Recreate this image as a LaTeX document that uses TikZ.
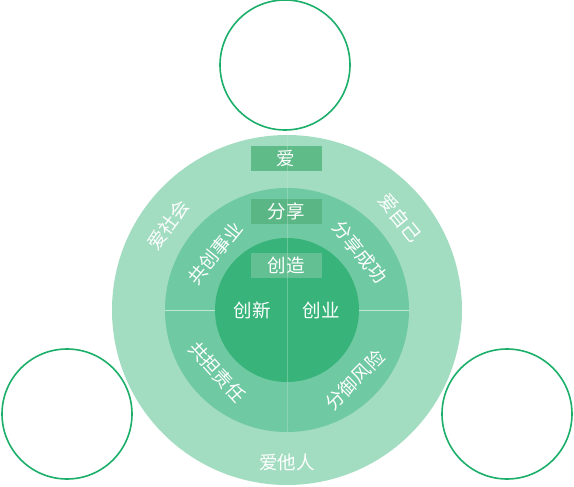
\documentclass[tikz,border=0pt]{standalone}
\usepackage{fontspec}
\newfontfamily\cjk{Noto Sans CJK SC}
\definecolor{ringA}{HTML}{A3DDC1}
\definecolor{ringB}{HTML}{6FC9A2}
\definecolor{ringC}{HTML}{38B47B}
\definecolor{boxA}{HTML}{5FBB88}
\definecolor{boxB}{HTML}{5AB785}
\definecolor{boxC}{HTML}{63C093}
\definecolor{divline}{HTML}{BFE8D3}
\definecolor{ringline}{HTML}{1BAF6A}
\tikzset{
  disc/.style={circle, inner sep=0pt, draw=none},
  emptyring/.style={circle, inner sep=0pt, minimum size=130pt, draw=ringline, line width=1.6pt, fill=white},
  label/.style={text=white, font=\cjk\fontsize{18.5}{18.5}\selectfont, inner sep=0pt},
  tag/.style={label, minimum width=71pt, minimum height=25pt},
  divider/.style={draw=divline, line width=0.9pt},
}
\begin{document}
\begin{tikzpicture}[x=1pt,y=-1pt]
\useasboundingbox (0,0) rectangle (574,487);
% small outline circles
\node[emptyring] (top) at (285,65) {};
\node[emptyring] (bl) at (67,414) {};
\node[emptyring] (br) at (507,414) {};
% rings
\node[disc, fill=ringA, minimum size=350pt] (outer) at (287,310) {};
\node[disc, fill=ringB, minimum size=244pt] (middle) at (287,310) {};
\draw[divider] (middle.west) -- (middle.east);
\node[disc, fill=ringC, minimum size=144pt] (inner) at (287,310) {};
% label boxes
\node[tag, fill=boxA] (ai) at (286,159) {爱};
\node[tag, fill=boxB] (fx) at (286,211.5) {分享};
\node[tag, fill=boxC] (cz) at (286,265) {创造};
\draw[divider, opacity=0.35] (outer.north) -- (middle.south);
% inner labels
\node[label] (cx) at (252,310) {创新};
\node[label] (cy) at (321,310) {创业};
% middle ring labels
\node[label, rotate=51] (gcsy) at (215,253) {共创事业};
\node[label, rotate=-51] (fxcg) at (360,252) {分享成功};
\node[label, rotate=-48] (gdzr) at (217,372) {共担责任};
\node[label, rotate=45] (fyfx) at (355,380) {分御风险};
% outer ring labels
\node[label, rotate=54] (ash) at (168,225) {爱社会};
\node[label, rotate=-51] (azj) at (400,218) {爱自己};
\node[label] (atr) at (287,462) {爱他人};
\end{tikzpicture}
\end{document}
